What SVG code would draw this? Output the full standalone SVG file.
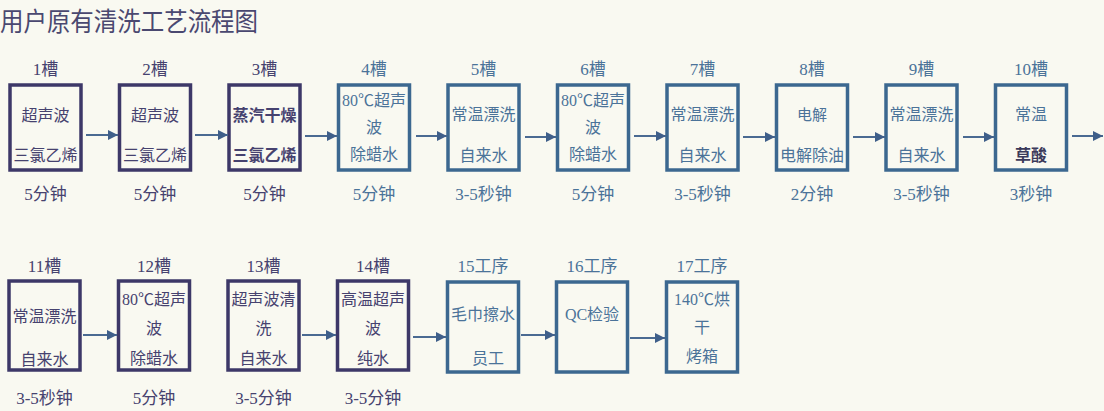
<svg xmlns="http://www.w3.org/2000/svg" width="1104" height="411" viewBox="0 0 1104 411">
<style>
text{font-family:"Liberation Serif","Noto Sans CJK SC",serif;font-size:16px;text-anchor:middle}
.title{font-family:"Noto Sans CJK SC",sans-serif;font-size:26px;text-anchor:start;fill:#4a4870}
.p rect{fill:none;stroke:#3d3868;stroke-width:3.5}
.p text{fill:#46426f}
.b rect{fill:none;stroke:#3c6890;stroke-width:3.5}
.b text{fill:#4b7399}
.lbl{font-size:17px}
.bold{font-weight:bold}
.conn line{stroke:#4a6a92;stroke-width:2}
</style>
<defs>
<marker id="ah" markerUnits="userSpaceOnUse" markerWidth="10" markerHeight="10" refX="10" refY="5" orient="auto">
<path d="M0,0 L10,5 L0,10 z" fill="#3f5f8a"/>
</marker>
</defs>
<rect width="1104" height="411" fill="#f9f9f1"/>
<text class="title" x="0" y="31" textLength="258" lengthAdjust="spacingAndGlyphs">用户原有清洗工艺流程图</text>

<g id="n1" class="p"><text class="lbl" x="45.5" y="75">1槽</text><rect x="10" y="85" width="71" height="85"/><text x="45.5" y="121">超声波</text><text x="45.5" y="161">三氯乙烯</text><text class="lbl" x="45.5" y="200">5分钟</text></g>
<g id="n2" class="p"><text class="lbl" x="155" y="75">2槽</text><rect x="119.5" y="85" width="71" height="85"/><text x="155" y="121">超声波</text><text x="155" y="161">三氯乙烯</text><text class="lbl" x="155" y="200">5分钟</text></g>
<g id="n3" class="p"><text class="lbl" x="264.5" y="75">3槽</text><rect x="229" y="85" width="71" height="85"/><text class="bold" x="264.5" y="121">蒸汽干燥</text><text class="bold" x="264.5" y="161">三氯乙烯</text><text class="lbl" x="264.5" y="200">5分钟</text></g>
<g id="n4" class="b"><text class="lbl" x="374" y="75">4槽</text><rect x="338.5" y="85" width="71" height="85"/><text x="374" y="106">80℃超声</text><text x="374" y="133">波</text><text x="374" y="160">除蜡水</text><text class="lbl" x="374" y="200">5分钟</text></g>
<g id="n5" class="b"><text class="lbl" x="483.5" y="75">5槽</text><rect x="448" y="85" width="71" height="85"/><text x="483.5" y="120">常温漂洗</text><text x="483.5" y="161">自来水</text><text class="lbl" x="483.5" y="200">3-5秒钟</text></g>
<g id="n6" class="b"><text class="lbl" x="593" y="75">6槽</text><rect x="557.5" y="85" width="71" height="85"/><text x="593" y="106">80℃超声</text><text x="593" y="133">波</text><text x="593" y="160">除蜡水</text><text class="lbl" x="593" y="200">5分钟</text></g>
<g id="n7" class="b"><text class="lbl" x="702.5" y="75">7槽</text><rect x="667" y="85" width="71" height="85"/><text x="702.5" y="120">常温漂洗</text><text x="702.5" y="161">自来水</text><text class="lbl" x="702.5" y="200">3-5秒钟</text></g>
<g id="n8" class="b"><text class="lbl" x="812" y="75">8槽</text><rect x="776.5" y="85" width="71" height="85"/><text x="812" y="120" style="font-size:15px">电解</text><text x="812" y="161">电解除油</text><text class="lbl" x="812" y="200">2分钟</text></g>
<g id="n9" class="b"><text class="lbl" x="921.5" y="75">9槽</text><rect x="886" y="85" width="71" height="85"/><text x="921.5" y="120">常温漂洗</text><text x="921.5" y="161">自来水</text><text class="lbl" x="921.5" y="200">3-5秒钟</text></g>
<g id="n10" class="b"><text class="lbl" x="1031" y="75">10槽</text><rect x="995.5" y="85" width="71" height="85"/><text x="1031" y="120">常温</text><text class="bold" x="1031" y="161" style="fill:#3b3a5a">草酸</text><text class="lbl" x="1031" y="200">3秒钟</text></g>

<g id="n11" class="p"><text class="lbl" x="44.5" y="272">11槽</text><rect x="9" y="281" width="71" height="89"/><text x="44.5" y="322">常温漂洗</text><text x="44.5" y="365">自来水</text><text class="lbl" x="44.5" y="404">3-5秒钟</text></g>
<g id="n12" class="p"><text class="lbl" x="154" y="272">12槽</text><rect x="118.5" y="281" width="71" height="89"/><text x="154" y="305">80℃超声</text><text x="154" y="334">波</text><text x="154" y="364">除蜡水</text><text class="lbl" x="154" y="404">5分钟</text></g>
<g id="n13" class="p"><text class="lbl" x="263.5" y="272">13槽</text><rect x="228" y="281" width="71" height="89"/><text x="263.5" y="305">超声波清</text><text x="263.5" y="334">洗</text><text x="263.5" y="364">自来水</text><text class="lbl" x="263.5" y="404">3-5分钟</text></g>
<g id="n14" class="p"><text class="lbl" x="373" y="272">14槽</text><rect x="337.5" y="281" width="71" height="89"/><text x="373" y="305">高温超声</text><text x="373" y="334">波</text><text x="373" y="364">纯水</text><text class="lbl" x="373" y="404">3-5分钟</text></g>
<g id="n15" class="b"><text class="lbl" x="483" y="272">15工序</text><rect x="447.5" y="282" width="71" height="90"/><text x="483" y="320">毛巾擦水</text><text x="488" y="364">员工</text></g>
<g id="n16" class="b"><text class="lbl" x="592" y="272">16工序</text><rect x="556.5" y="282" width="71" height="90"/><text x="592" y="320">QC检验</text></g>
<g id="n17" class="b"><text class="lbl" x="702" y="272">17工序</text><rect x="666.5" y="282" width="71" height="90"/><text x="702" y="305">140℃烘</text><text x="702" y="333">干</text><text x="702" y="362">烤箱</text></g>

<g id="connectors" class="conn">
<line x1="86" y1="135" x2="118" y2="135" marker-end="url(#ah)"/>
<line x1="195" y1="135" x2="228" y2="135" marker-end="url(#ah)"/>
<line x1="305" y1="136" x2="337" y2="136" marker-end="url(#ah)"/>
<line x1="416" y1="136" x2="447" y2="136" marker-end="url(#ah)"/>
<line x1="525" y1="137" x2="556" y2="137" marker-end="url(#ah)"/>
<line x1="634" y1="136" x2="666" y2="136" marker-end="url(#ah)"/>
<line x1="743" y1="137" x2="775" y2="137" marker-end="url(#ah)"/>
<line x1="853" y1="137" x2="885" y2="137" marker-end="url(#ah)"/>
<line x1="963" y1="137" x2="994" y2="137" marker-end="url(#ah)"/>
<line x1="1072" y1="136" x2="1103" y2="136" marker-end="url(#ah)"/>
<line x1="83" y1="335" x2="117" y2="335" marker-end="url(#ah)"/>
<line x1="302" y1="335" x2="336" y2="335" marker-end="url(#ah)"/>
<line x1="413" y1="337" x2="446" y2="337" marker-end="url(#ah)"/>
<line x1="521" y1="335" x2="555" y2="335" marker-end="url(#ah)"/>
<line x1="630" y1="338" x2="665" y2="338" marker-end="url(#ah)"/>
</g>
</svg>
